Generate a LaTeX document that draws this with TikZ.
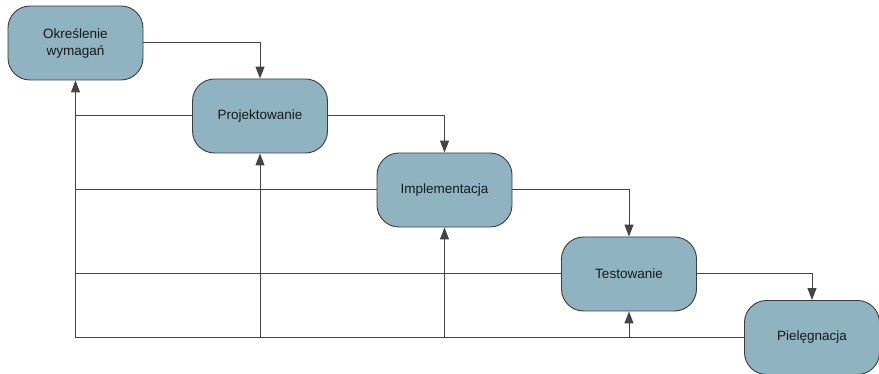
\documentclass[tikz,border=0pt]{standalone}
\usepackage{fontspec}
\setmainfont{Liberation Sans}
\usetikzlibrary{arrows.meta}
\definecolor{boxfill}{HTML}{8FB3C1}
\definecolor{boxline}{HTML}{3C3C3C}
\definecolor{conn}{HTML}{444444}
\tikzset{
  phase/.style={draw=boxline, line width=0.9pt, fill=boxfill, rounded corners=22pt,
    minimum width=135pt, minimum height=74pt, inner sep=0pt, align=center,
    font=\fontsize{13.5pt}{17pt}\selectfont, text=black!90},
  conline/.style={draw=conn, line width=1pt},
  conarr/.style={conline, -{Triangle[length=12pt,width=9pt]}}
}
\begin{document}
\begin{tikzpicture}[x=1pt,y=-1pt]
\useasboundingbox (0,0) rectangle (879,374);
\node[phase] (o)  at (75.5,43)  {Określenie\\wymagań};
\node[phase] (pr) at (260,116) {Projektowanie};
\node[phase] (im) at (444.5,190) {Implementacja};
\node[phase] (te) at (629,274) {Testowanie};
\node[phase] (pi) at (812,337.5) {Pielęgnacja};
% forward flow
\draw[conarr] (o.east) -| (pr.north);
\draw[conarr] (pr.east) -| (im.north);
\draw[conarr] (im.east) -| (te.north);
\draw[conarr] (te.east) -| (pi.north);
% feedback
\coordinate (base) at (o.south |- pi.west);
\draw[conarr] (pi.west) -- (base) -- (o.south);
\draw[conline] (pr.west) -- (pr.west -| base);
\draw[conline] (im.west) -- (im.west -| base);
\draw[conline] (te.west) -- (te.west -| base);
\draw[conarr] (pr.south |- base) -- (pr.south);
\draw[conarr] (im.south |- base) -- (im.south);
\draw[conarr] (te.south |- base) -- (te.south);
\end{tikzpicture}
\end{document}
